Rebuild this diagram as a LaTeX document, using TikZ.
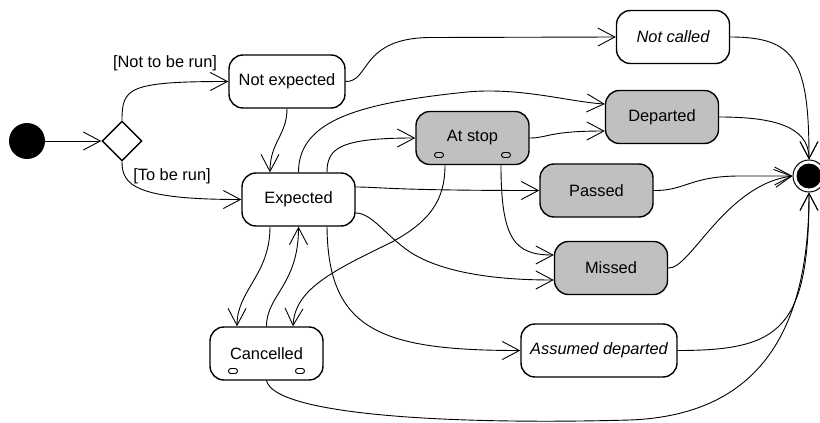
\documentclass[tikz,border=0pt]{standalone}
\usepackage{fontspec}
\setmainfont{Liberation Sans}
\usetikzlibrary{arrows.meta,shapes.geometric}
\definecolor{stategray}{RGB}{192,192,192}
\begin{document}
\begin{tikzpicture}[x=1pt,y=-1pt,
  state/.style={draw, line width=1.4pt, rounded corners=14pt, minimum width=113pt,
    minimum height=53pt, inner sep=0pt, fill=white, font=\fontsize{16.4}{19}\selectfont},
  active/.style={state, fill=stategray},
  initst/.style={circle, fill=black, minimum size=36pt, inner sep=0pt},
  choice/.style={diamond, draw, line width=1.4pt, aspect=1, minimum width=40pt,
    minimum height=40pt, inner sep=0pt, fill=white},
  finring/.style={circle, draw, line width=1pt, minimum size=32pt, inner sep=0pt, fill=white},
  findot/.style={circle, fill=black, minimum size=25pt, inner sep=0pt},
  pill/.style={draw, line width=0.9pt, rounded corners=2.5pt, minimum width=9pt,
    minimum height=5pt, inner sep=0pt},
  lbl/.style={inner sep=0pt, font=\fontsize{16.4}{19}\selectfont},
  trans/.style={line width=0.9pt, -{Straight Barb[length=17pt,width=18pt]}}
]
\useasboundingbox (0,0) rectangle (820,423);

% nodes
\node[initst] (ini) at (27,141) {};
\node[choice] (dia) at (122,141) {};
\node[state, minimum width=116pt] (ne) at (287,81.5) {Not expected};
\node[state] (exp) at (298.5,199.5) {Expected};
\node[state] (canc) at (266.5,353.5) {Cancelled};
\node[active] (ats) at (472.5,138) {At stop};
\node[state] (nc) at (673,37) {\itshape Not called};
\node[active] (dep) at (662,117) {Departed};
\node[active] (pas) at (596.5,190.5) {Passed};
\node[active] (mis) at (611,268) {Missed};
\node[state, minimum width=156pt] (ad) at (599,350.5) {\itshape Assumed departed};
\node[finring] (fin) at (809,176) {};
\node[findot] (findot) at (809,176) {};

\node[pill, fill=stategray] (atsp1) at (439,155) {};
\node[pill, fill=stategray] (atsp2) at (506,155) {};
\node[pill, fill=white] (cancp1) at (233,371) {};
\node[pill, fill=white] (cancp2) at (300,371) {};

\node[lbl] (l1) at (165,63) {[Not to be run]};
\node[lbl] (l2) at (172,176) {[To be run]};

% transitions
\draw[trans] (ini) -- (dia);
\draw[trans] (dia.north) .. controls (122,88) and (128,81.5) .. (ne.west);
\draw[trans] (dia.south) .. controls (122,185) and (135,199.5) .. (exp.west);

\draw[trans] (ne.south) .. controls (287,135) and (270,142) .. ([xshift=-28.5pt]exp.north);
\draw[trans] (ne.east) .. controls (370,82) and (360,38) .. (430,37.5) -- (nc.west);

\draw[trans] (exp.north) .. controls (298.5,120) and (360,103) .. (467,92)
  .. controls (520,87) and (570,102) .. ([yshift=13pt]dep.west);
\draw[trans] ([xshift=28.5pt]exp.north) .. controls (327,148) and (340,138) .. (ats.west);
\draw[trans] (ats.east) .. controls (548,138) and (548,131) .. ([yshift=-14pt]dep.west);
\draw[trans] ([yshift=12.5pt]exp.east) .. controls (380,187) and (390,190.5) .. (pas.west);
\draw[trans] ([yshift=-13.5pt]exp.east) .. controls (372,213) and (385,235) .. (410,252)
  .. controls (450,278) and (520,280) .. ([yshift=-12pt]mis.west);

\draw[trans] ([xshift=-27.5pt]ats.south) .. controls (445,200) and (430,222) .. (390,243)
  .. controls (330,272) and (295,290) .. ([xshift=26.5pt]canc.north);
\draw[trans] ([xshift=28.5pt]ats.south) .. controls (501,240) and (515,255) .. ([yshift=13pt]mis.west);

\draw[trans] ([xshift=-28.5pt]exp.south) .. controls (270,275) and (237,290) .. ([xshift=-29.5pt]canc.north);
\draw[trans] (canc.north) .. controls (266.5,295) and (298.5,285) .. (exp.south);
\draw[trans] ([xshift=28.5pt]exp.south) .. controls (328,330) and (380,350.5) .. (ad.west);

\draw[trans] (canc.south) .. controls (275,415) and (450,425) .. (630,420)
  .. controls (760,415) and (809,330) .. (fin.south);
\draw[trans] (ad.east) .. controls (780,350.5) and (809,330) .. (fin.south);
\draw[trans] (mis.east) .. controls (690,270) and (725,185) .. (fin.west);
\draw[trans] (pas.east) .. controls (685,191) and (690,176) .. (740,176) -- (fin.west);
\draw[trans] (dep.east) .. controls (770,117) and (809,125) .. (fin.north);
\draw[trans] (nc.east) .. controls (795,37) and (809,60) .. (fin.north);
\end{tikzpicture}
\end{document}
